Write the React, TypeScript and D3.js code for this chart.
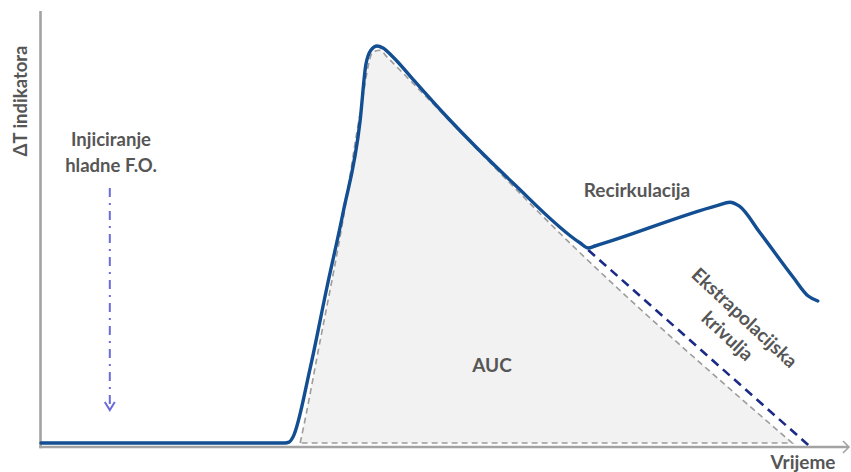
import React from "react";
import * as d3 from "d3";

// time axis 0..100, temperature difference 0..100 (peak)
const curveTime = [0, 30.5, 31, 31.5, 33.6, 35.75, 37.75, 39.9, 40.6, 41.25, 42, 42.75, 44, 46.5, 50.75, 59, 67.4, 68.4, 69.25, 84.6, 86.1, 87.3, 89.9, 94, 95.9, 97.1];
const curveValue = [1, 1, 1.2, 2.5, 19.3, 40, 58.5, 81.75, 95.5, 99.25, 100.25, 99.75, 97.5, 91.9, 82.5, 66, 51, 49.75, 50.25, 60.4, 61.2, 60.2, 53.5, 42.5, 37.75, 36.5];

// AUC outline (gray dashed)
const aucTime = [32.4, 33, 34.6, 37.75, 39.9, 41.5, 42.4, 43.2, 67.4, 93.9];
const aucValue = [1, 6.75, 23.5, 56.75, 83.5, 98.8, 99.2, 97.6, 48.5, 1];

// extrapolation line
const extrapTime = [68.4, 95.9];
const extrapValue = [49.25, 0.5];

// injection marker
const injectionTime = 8.6;
const injectionRange = [64.75, 9.25];

const W = 851;
const H = 472;

const x = d3.scaleLinear().domain([0, 100]).range([41, 841]);
const y = d3.scaleLinear().domain([0, 100]).range([447, 47]);

const textColor = "#565656";
const font = "Lato, 'Open Sans', sans-serif";

export default function App() {
  const curve = curveTime.map((t, i) => [t, curveValue[i]] as [number, number]);
  const auc = aucTime.map((t, i) => [t, aucValue[i]] as [number, number]);
  const extrap = extrapTime.map((t, i) => [t, extrapValue[i]] as [number, number]);

  const line = d3
    .line<[number, number]>()
    .x((d) => x(d[0]))
    .y((d) => y(d[1]))
    .curve(d3.curveMonotoneX);

  const aucArea = d3
    .area<[number, number]>()
    .x((d) => x(d[0]))
    .y0(y(1))
    .y1((d) => y(d[1]))
    .curve(d3.curveMonotoneX);

  const aucOutline = line(auc) + `L${x(aucTime[0])},${y(aucValue[0])}`;

  const axisX0 = x(0) - 0.5;
  const axisY0 = y(0);
  const axisXEnd = 848;
  const axisYTop = 11;

  const ax = x(injectionTime);
  const ay1 = y(injectionRange[0]);
  const ay2 = y(injectionRange[1]);

  return (
    <svg
      width={W}
      height={H}
      style={{ position: "absolute", left: 0, top: 0, background: "#fff" }}
      fontFamily={font}
      fontWeight="bold"
    >
      {/* AUC fill */}
      <path d={aucArea(auc) || ""} fill="#f2f2f2" />
      <path
        d={aucOutline}
        fill="none"
        stroke="#9c9c9c"
        strokeWidth={1.6}
        strokeDasharray="6 4"
      />

      {/* extrapolation */}
      <path
        d={line(extrap) || ""}
        fill="none"
        stroke="#1b2a86"
        strokeWidth={2.6}
        strokeDasharray="9 6"
      />

      {/* axes */}
      <line x1={axisX0} y1={axisYTop} x2={axisX0} y2={axisY0 + 1.2} stroke="#a3a3a3" strokeWidth={2.6} />
      <line x1={axisX0 - 1} y1={axisY0} x2={axisXEnd} y2={axisY0} stroke="#a3a3a3" strokeWidth={2.6} />
      <polyline
        points={`${axisXEnd - 5},${axisY0 - 6} ${axisXEnd + 1},${axisY0} ${axisXEnd - 5},${axisY0 + 6}`}
        fill="none"
        stroke="#a3a3a3"
        strokeWidth={1.6}
      />

      {/* main curve */}
      <path
        d={line(curve) || ""}
        fill="none"
        stroke="#124e91"
        strokeWidth={3.4}
        strokeLinejoin="round"
        strokeLinecap="round"
      />

      {/* injection arrow */}
      <line
        x1={ax}
        y1={ay1}
        x2={ax}
        y2={ay2}
        stroke="#6b6bdc"
        strokeWidth={2}
        strokeDasharray="9 6 2 6"
      />
      <polyline
        points={`${ax - 5},${ay2 - 8} ${ax},${ay2} ${ax + 5},${ay2 - 8}`}
        fill="none"
        stroke="#6b6bdc"
        strokeWidth={2}
      />

      {/* labels */}
      <text
        transform="translate(27,101) rotate(-90)"
        textAnchor="middle"
        fontSize={18.5}
        fill={textColor}
      >
        ΔT indikatora
      </text>
      <text x={111} y={146} textAnchor="middle" fontSize={18.5} fill={textColor}>
        Injiciranje
      </text>
      <text x={111} y={172} textAnchor="middle" fontSize={18.5} fill={textColor}>
        hladne F.O.
      </text>
      <text x={637} y={197} textAnchor="middle" fontSize={19} fill={textColor}>
        Recirkulacija
      </text>
      <text x={492} y={372} textAnchor="middle" fontSize={19} fill={textColor}>
        AUC
      </text>
      <text x={803} y={469} textAnchor="middle" fontSize={19} fill={textColor}>
        Vrijeme
      </text>
      <g transform="translate(736,327) rotate(43)">
        <text x={0} y={-6} textAnchor="middle" fontSize={19} fill={textColor}>
          Ekstrapolacijska
        </text>
        <text x={0} y={19} textAnchor="middle" fontSize={19} fill={textColor}>
          krivulja
        </text>
      </g>
    </svg>
  );
}
